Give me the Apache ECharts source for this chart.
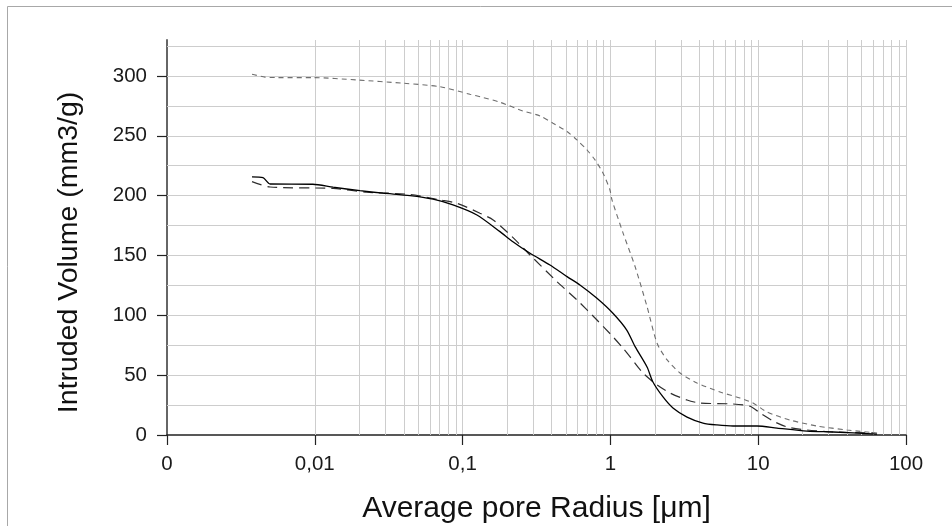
<!DOCTYPE html>
<html>
<head>
<meta charset="utf-8">
<title>Intruded volume vs. pore radius</title>
<script src="https://cdn.jsdelivr.net/npm/echarts@6/dist/echarts.min.js"></script>
<style>
  html, body { margin: 0; padding: 0; background: #fff; }
  #chart { width: 952px; height: 526px; }
</style>
</head>
<body>
<div id="chart"></div>
<script>
// Mercury intrusion curves: cumulative intruded volume against pore radius.
const radiusSolid = [0.00376, 0.00446, 0.00498, 0.0097, 0.0133, 0.0202, 0.0289, 0.0441, 0.0631, 0.0861,
  0.125, 0.179, 0.219, 0.286, 0.390, 0.509, 0.622, 0.811, 1.04, 1.29, 1.47, 1.77, 1.94, 2.27, 2.65,
  3.30, 4.23, 5.26, 6.76, 9.82, 13.4, 21.4, 32.1, 63.7];
const volumeSolid = [215.6, 215, 209.7, 209.5, 207, 204.1, 202, 200, 197, 192.2,
  183.8, 169.9, 161.5, 151.8, 142, 132.3, 125.3, 114.2, 101.7, 87.7, 73.8, 56.8, 44.3, 31.8, 22.6,
  15.0, 10.0, 8.4, 7.5, 7.5, 5.8, 3.3, 2.5, 0.8];

const radiusLongDash = [0.00376, 0.00498, 0.0133, 0.0225, 0.0441, 0.0703, 0.0916, 0.131, 0.161, 0.216,
  0.286, 0.435, 0.594, 0.811, 1.04, 1.22, 1.36, 1.66, 2.07, 2.53, 3.30, 4.04, 6.76, 8.81, 10.3,
  12.6, 15.7, 21.4, 32.1, 60];
const volumeLongDash = [211.7, 207.2, 206, 202.8, 201, 196.4, 193.6, 185.3, 179.7, 165.7,
  150.4, 128.1, 112.8, 96.1, 82.1, 72.4, 65.2, 51.8, 41.8, 35.1, 29.2, 26.7, 25.9, 24, 18.4,
  11.7, 6.7, 4.2, 2.5, 1.7];

const radiusShortDash = [0.00376, 0.0046, 0.00555, 0.0097, 0.0193, 0.0396, 0.0703, 0.112, 0.137, 0.179,
  0.256, 0.334, 0.409, 0.509, 0.594, 0.695, 0.787, 0.891, 0.993, 1.025, 1.22, 1.47, 1.77, 2.07,
  2.42, 2.96, 3.85, 5.52, 7.53, 9.22, 11.5, 16.4, 25.0, 39.9, 63.7];
const volumeShortDash = [301.4, 299, 298.6, 298.6, 296.6, 293.9, 291, 284.7, 282, 278,
  270.7, 266.6, 260.5, 253.5, 246.5, 238.1, 229.8, 218.9, 204.7, 196.4, 168.5, 140.6, 107.2, 76.6,
  62.7, 51.8, 43.5, 35.9, 30.9, 26.7, 19.2, 12.5, 7.5, 4.2, 1.7];

// Axis ticks and labels
const xTickValues = [0.001, 0.01, 0.1, 1, 10, 100];
const xTickLabels = ['0', '0,01', '0,1', '1', '10', '100'];
const yTickValues = [0, 50, 100, 150, 200, 250, 300];
const yGridValues = [25, 50, 75, 100, 125, 150, 175, 200, 225, 250, 275, 300, 325];

const FONT = '"Liberation Sans", Arial, sans-serif';

function pairs(xs, ys) {
  return xs.map((x, i) => [x, ys[i]]);
}

// Grid: horizontal lines every 25, vertical lines at 2..9 of every decade
const gridLines = yGridValues.map(v => ({ yAxis: v }));
for (let d = -3; d < 2; d++) {
  for (let k = 2; k <= 9; k++) {
    gridLines.push({ xAxis: k * Math.pow(10, d) });
  }
}

function xLabel(v) {
  const e = Math.round(Math.log10(v));
  const idx = xTickValues.findIndex(t => Math.round(Math.log10(t)) === e);
  return idx >= 0 ? xTickLabels[idx] : '';
}

const chart = echarts.init(document.getElementById('chart'), null, { renderer: 'canvas' });

chart.setOption({
  animation: false,
  backgroundColor: '#fff',
  textStyle: { fontFamily: FONT },
  graphic: [{
    type: 'rect',
    shape: { x: 7.5, y: 6.5, width: 2000, height: 2000 },
    style: { fill: 'none', stroke: '#a8a8a8', lineWidth: 1 },
    silent: true,
    z: -10
  }],
  grid: { left: 167, right: 46, top: 40, bottom: 91, containLabel: false, outerBoundsMode: 'none' },
  xAxis: {
    type: 'log',
    logBase: 10,
    min: 0.001,
    max: 100,
    splitNumber: 5,
    name: 'Average pore Radius [μm]',
    nameLocation: 'middle',
    nameGap: 59,
    nameTextStyle: { fontSize: 30, color: '#111', fontFamily: FONT },
    axisLine: { show: true, onZero: false, lineStyle: { color: '#222', width: 1.5 } },
    axisTick: { show: true, length: 10, customValues: xTickValues, lineStyle: { color: '#222', width: 1.2 } },
    axisLabel: {
      customValues: xTickValues,
      formatter: xLabel,
      fontSize: 20.5,
      color: '#1a1a1a',
      margin: 19,
      fontFamily: FONT
    },
    splitLine: { show: true, showMinLine: false, lineStyle: { color: '#cdcdcd', width: 1 } }
  },
  yAxis: {
    type: 'value',
    min: 0,
    max: 330,
    interval: 25,
    name: 'Intruded Volume (mm3/g)',
    nameLocation: 'middle',
    nameGap: 83,
    nameTextStyle: { fontSize: 28.5, color: '#111', fontFamily: FONT, padding: [0, 30, 0, 0] },
    axisLine: { show: true, lineStyle: { color: '#666', width: 2 } },
    axisTick: { show: true, length: 10, customValues: yTickValues, lineStyle: { color: '#222', width: 1.2 } },
    axisLabel: {
      customValues: yTickValues,
      fontSize: 20.5,
      color: '#1a1a1a',
      margin: 20,
      fontFamily: FONT
    },
    splitLine: { show: false }
  },
  series: [
    {
      name: 'grid',
      type: 'line',
      data: [],
      silent: true,
      z: 1,
      markLine: {
        silent: true,
        symbol: ['none', 'none'],
        label: { show: false },
        lineStyle: { color: '#cdcdcd', type: 'solid', width: 1 },
        emphasis: { disabled: true },
        animation: false,
        data: gridLines
      }
    },
    {
      name: 'short dash',
      type: 'line',
      z: 10,
      showSymbol: false,
      smooth: 0.25,
      data: pairs(radiusShortDash, volumeShortDash),
      lineStyle: { color: '#6e6e6e', width: 1.1, type: [5, 4] }
    },
    {
      name: 'long dash',
      type: 'line',
      z: 11,
      showSymbol: false,
      smooth: 0.25,
      data: pairs(radiusLongDash, volumeLongDash),
      lineStyle: { color: '#2e2e2e', width: 1.2, type: [10, 6] }
    },
    {
      name: 'solid',
      type: 'line',
      z: 12,
      showSymbol: false,
      smooth: 0.25,
      data: pairs(radiusSolid, volumeSolid),
      lineStyle: { color: '#000', width: 1.3, type: 'solid' }
    }
  ]
});
</script>
</body>
</html>
